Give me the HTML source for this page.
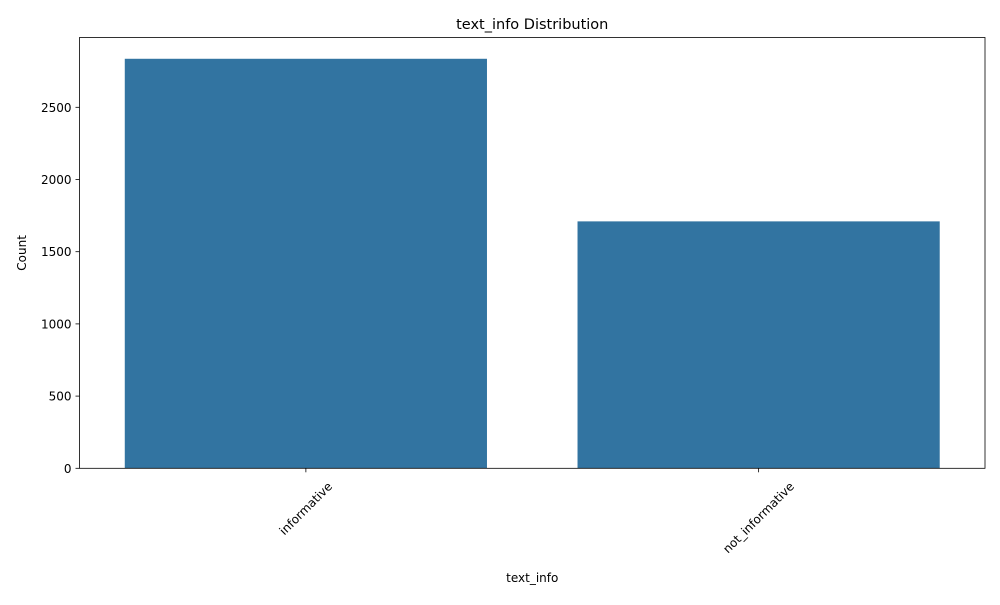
<!DOCTYPE html>
<html><head><meta charset="utf-8"><style>
body{margin:0;background:#fff;font-family:"Liberation Sans","DejaVu Sans",sans-serif}
svg text{font-family:"DejaVu Sans","Liberation Sans",sans-serif}
</style></head><body>
<svg id="chart" width="1000" height="600">
<rect width="1000" height="600" fill="#fff"/>
</svg>
<script>
const categories = ["informative", "not_informative"];
const counts = [2836, 1710];
const yTicks = [0, 500, 1000, 1500, 2000, 2500];

const svg = document.getElementById('chart');
const NS = 'http://www.w3.org/2000/svg';
const L = 79.5, R = 985, T = 37.5, B = 468.3;
const pxPerUnit = (B - 107.3) / 2500;
const y = v => B - v * pxPerUnit;
const band = (R - L) / categories.length;
const xc = i => L + band * (i + 0.5);
function mk(tag, attrs, text) {
  const e = document.createElementNS(NS, tag);
  for (const k in attrs) e.setAttribute(k, attrs[k]);
  if (text !== undefined) e.textContent = text;
  svg.appendChild(e);
  return e;
}
categories.forEach((c, i) => {
  const w = band * 0.8;
  const r = mk('rect', {x: xc(i) - w / 2, y: y(counts[i]), width: w, height: B - y(counts[i]), fill: '#3274a1'});
  
  
  const t = mk('line', {x1: xc(i), x2: xc(i), y1: B, y2: B + 4, stroke: '#000', 'stroke-width': 0.8});
  
  
  const lab = mk('text', {x: xc(i), y: 0, 'font-size': 12, 'text-anchor': 'middle'}, c);
  const len = lab.getComputedTextLength();
  const cy = B + 12 + len * 0.7071 / 2 + 4;
  lab.setAttribute('y', cy + 4);
  lab.setAttribute('transform', `rotate(-45 ${xc(i)} ${cy})`);
  
  
});
yTicks.forEach(v => {
  const t = mk('line', {x1: L - 4, x2: L, y1: y(v), y2: y(v), stroke: '#000', 'stroke-width': 0.8});
  
  
  const lab = mk('text', {x: L - 8, y: y(v) + 4.5, 'font-size': 12, 'text-anchor': 'end'}, v);
  
  
});
const frame = mk('rect', {x: L, y: T, width: R - L, height: B - T, fill: 'none', stroke: '#000', 'stroke-width': 0.8});


const title = mk('text', {x: (L + R) / 2, y: 29, 'font-size': 14.5, 'text-anchor': 'middle'}, 'text_info Distribution');


const xt = mk('text', {x: (L + R) / 2, y: 582, 'font-size': 12, 'text-anchor': 'middle'}, 'text_info');


const yt = mk('text', {x: 26, y: (T + B) / 2, 'font-size': 12, 'text-anchor': 'middle', transform: `rotate(-90 26 ${(T + B) / 2})`}, 'Count');


</script>
</body></html>
